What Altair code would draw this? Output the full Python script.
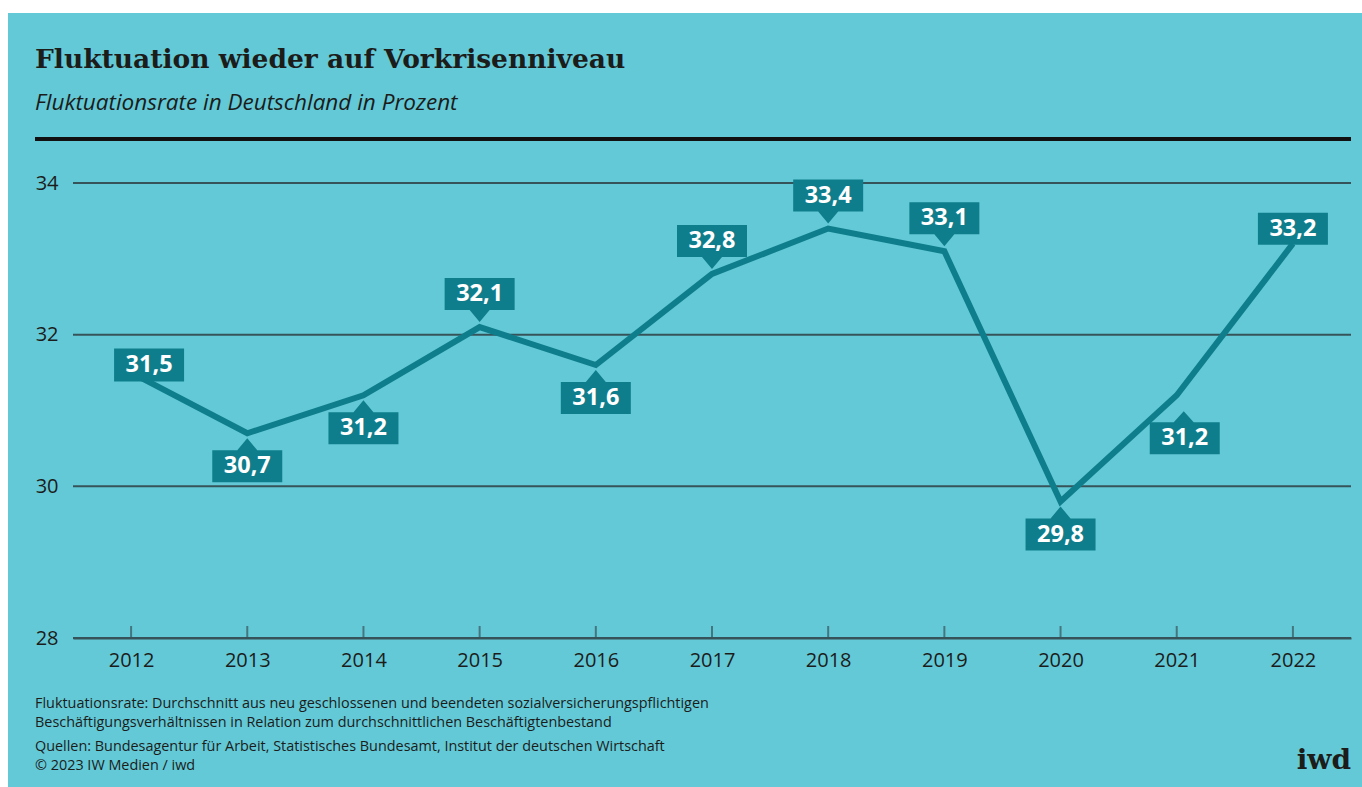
import altair as alt
import pandas as pd

# ---------------- data ----------------
years = [2012, 2013, 2014, 2015, 2016, 2017, 2018, 2019, 2020, 2021, 2022]
rates = [31.5, 30.7, 31.2, 32.1, 31.6, 32.8, 33.4, 33.1, 29.8, 31.2, 33.2]
placement = ["start", "below", "below", "above", "below", "above",
             "above", "above", "below", "below-right", "end"]
y_ticks = [28, 30, 32, 34]

title_text = "Fluktuation wieder auf Vorkrisenniveau"
subtitle_text = "Fluktuationsrate in Deutschland in Prozent"
note_lines = [
    "Fluktuationsrate: Durchschnitt aus neu geschlossenen und beendeten sozialversicherungspflichtigen",
    "Beschäftigungsverhältnissen in Relation zum durchschnittlichen Beschäftigtenbestand",
    "Quellen: Bundesagentur für Arbeit, Statistisches Bundesamt, Institut der deutschen Wirtschaft",
    "© 2023 IW Medien / iwd",
]
logo_text = "iwd"

df = pd.DataFrame({"year": years, "rate": rates, "placement": placement})
grid_df = pd.DataFrame({"rate": y_ticks})
one = pd.DataFrame({"k": [0]})

# ---------------- style ----------------
W, H = 1278, 455
BG = "#63c9d7"
TEAL = "#0f7e8c"
GRID = "#37535a"
INK = "#1c1c1a"
SANS = "Open Sans"
SERIF = "DejaVu Serif"

x_enc = alt.X(
    "year:Q",
    scale=alt.Scale(domain=[2011.5, 2022.5], nice=False, zero=False),
    axis=alt.Axis(values=years, format="d", grid=False, ticks=False,
                  domain=True, domainColor=GRID, domainWidth=2,
                  labelFont=SANS, labelFontSize=20, labelColor=INK,
                  labelPadding=12, title=None, zindex=1),
)
y_enc = alt.Y(
    "rate:Q",
    scale=alt.Scale(domain=[28, 34], nice=False, zero=False),
    axis=alt.Axis(values=y_ticks, format="d", grid=False, ticks=False, domain=False,
                  labelFont=SANS, labelFontSize=20, labelColor=INK,
                  labelPadding=15, title=None, zindex=1),
)

background = alt.Chart(one).mark_rect(color=BG).encode(
    x=alt.value(-65), x2=alt.value(1289), y=alt.value(-170), y2=alt.value(604)
)

gridlines = alt.Chart(grid_df).mark_rule(color=GRID, strokeWidth=2).encode(y=y_enc)

ticks = alt.Chart(df).mark_tick(orient="vertical", size=12, thickness=2,
                                color=GRID, yOffset=-6).encode(x=x_enc, y=alt.datum(28))

line = alt.Chart(df).mark_line(color=TEAL, strokeWidth=6, strokeJoin="miter").encode(
    x=x_enc, y=y_enc
)

# label callout shapes (unit = 35 px) and text offsets
shapes = {
    "below": ("M-1,0.486L-0.286,0.486L0,0.143L0.286,0.486L1,0.486L1,1.4L-1,1.4Z", 0, 33),
    "above": ("M-1,-0.486L-0.286,-0.486L0,-0.143L0.286,-0.486L1,-0.486L1,-1.4L-1,-1.4Z", 0, -33),
    "start": ("M-0.486,-0.686L1.514,-0.686L1.514,0.257L-0.486,0.257Z", 18, -8),
    "end": ("M-1,-0.886L1,-0.886L1,0.029L-1,0.029Z", 0, -15),
    "below-right": ("M-0.771,0.771L-0.086,0.771L0.2,0.457L0.486,0.771L1.229,0.771L1.229,1.686L-0.771,1.686Z", 8, 43),
}

label_layers = []
base = alt.Chart(df).transform_calculate(
    label="replace(format(datum.rate, '.1f'), '.', ',')"
)
for name, (path, dx, dy) in shapes.items():
    sub = base.transform_filter(alt.datum.placement == name)
    box = sub.mark_point(shape=path, size=4900, filled=True, fill=TEAL,
                         opacity=1, strokeWidth=0).encode(x=x_enc, y=y_enc)
    txt = sub.mark_text(dx=dx, dy=dy, font=SANS, fontWeight="bold", fontSize=23.5,
                        color="white", align="center", baseline="middle").encode(
        x=x_enc, y=y_enc, text="label:N")
    label_layers += [box, txt]

title = alt.Chart(one).mark_text(align="left", baseline="alphabetic", font=SERIF,
                                 fontWeight="bold", fontSize=26.5, color=INK).encode(
    x=alt.value(-38), y=alt.value(-115), text=alt.value(title_text))
subtitle = alt.Chart(one).mark_text(align="left", baseline="alphabetic", font=SANS,
                                    fontStyle="italic", fontSize=22.5, color=INK).encode(
    x=alt.value(-38), y=alt.value(-73), text=alt.value(subtitle_text))
top_rule = alt.Chart(one).mark_rule(color="#111111", strokeWidth=4).encode(
    x=alt.value(-38), x2=alt.value(1278), y=alt.value(-44))

note_y = [525, 544, 568, 587]
notes = [
    alt.Chart(one).mark_text(align="left", baseline="alphabetic", font=SANS,
                             fontSize=14.4, color=INK).encode(
        x=alt.value(-38), y=alt.value(ny), text=alt.value(t))
    for t, ny in zip(note_lines, note_y)
]
logo = alt.Chart(one).mark_text(align="right", baseline="alphabetic", font=SERIF,
                                fontWeight="bold", fontSize=28, color=INK).encode(
    x=alt.value(1278), y=alt.value(586), text=alt.value(logo_text))

chart = alt.layer(
    background, gridlines, ticks, line, *label_layers,
    title, subtitle, top_rule, *notes, logo
).properties(
    width=W, height=H,
    padding={"left": 8, "top": 13, "right": 0, "bottom": 0},
    background="white",
).configure_view(stroke=None)

chart.save("out.html", embed_options={"renderer": "svg", "actions": False})
